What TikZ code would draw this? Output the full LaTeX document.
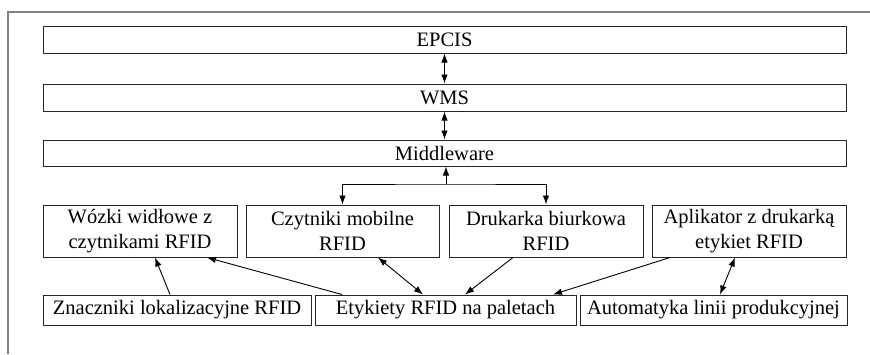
\documentclass[tikz,border=0pt]{standalone}
\usepackage{fontspec}
\setmainfont{Liberation Serif}
\usepackage{tikz}
\usetikzlibrary{arrows.meta, positioning, calc}
\usepackage{xcolor}

\begin{document}
\begin{tikzpicture}[x=1pt, y=-1pt,
    layer/.style={draw=black!85, line width=1pt, inner sep=0pt, minimum width=803pt,
        minimum height=27pt, font=\fontsize{20.5}{25}\selectfont},
    unit/.style={draw=black!85, line width=1pt, inner sep=0pt, minimum height=52pt,
        align=center, font=\fontsize{20.5}{25}\selectfont},
    tag/.style={draw=black!85, line width=1pt, inner sep=0pt, minimum height=30pt,
        font=\fontsize{20.5}{25}\selectfont},
    arr/.style={line width=0.9pt, -{Latex[length=9pt, width=6.5pt]}},
    biarr/.style={line width=0.9pt, {Latex[length=9pt, width=6.5pt]}-{Latex[length=9pt, width=6.5pt]}}]
    \useasboundingbox (0,0) rectangle (870,354);

    % Frame
    \draw[gray, line width=1.2pt] (870,12) -- (8,12) -- (8,354);

    % Layers
    \node[layer] (epcis) at (444.5, 39.5) {EPCIS};
    \node[layer] (wms) at (444.5, 97.5) {WMS};
    \node[layer, minimum height=26pt] (mw) at (444.5, 153) {Middleware};

    % Devices
    \node[unit, minimum width=194pt] (woz) at (140, 231) {W\'ozki wid\l{}owe z\\czytnikami RFID};
    \node[unit, minimum width=193pt] (czyt) at (342.5, 231) {Czytniki mobilne\\RFID};
    \node[unit, minimum width=194pt] (druk) at (546, 231) {Drukarka biurkowa\\RFID};
    \node[unit, minimum width=194pt] (apl) at (749, 231) {Aplikator z drukark\k{a}\\etykiet RFID};

    % Tags and lines
    \node[tag, minimum width=268pt] (zn) at (177, 310) {Znaczniki lokalizacyjne RFID};
    \node[tag, minimum width=261pt] (ety) at (445.5, 310) {Etykiety RFID na paletach};
    \node[tag, minimum width=267pt] (aut) at (713.5, 310) {Automatyka linii produkcyjnej};

    % Upper links
    \draw[biarr] (epcis) -- (wms);
    \draw[biarr] (wms) -- (mw);
    \coordinate (br) at (446, 184);
    \draw[arr] (br) -- (br |- mw.south);
    \draw[biarr] (czyt) |- (br) -| (druk);

    % Lower links
    \draw[arr] ([xshift=-7pt]zn.north) -- ([xshift=15pt]woz.south);
    \draw[arr] ([xshift=-103.5pt]ety.north) -- ([xshift=67pt]woz.south);
    \draw[biarr] ([xshift=35.5pt]czyt.south) -- ([xshift=-22.5pt]ety.north);
    \draw[arr] ([xshift=-33pt]druk.south) -- ([xshift=19.5pt]ety.north);
    \draw[arr] ([xshift=-79pt]apl.south) -- ([xshift=107.5pt]ety.north);
    \draw[biarr] ([xshift=-14pt]apl.south) -- ([xshift=6.5pt]aut.north);
\end{tikzpicture}
\end{document}
